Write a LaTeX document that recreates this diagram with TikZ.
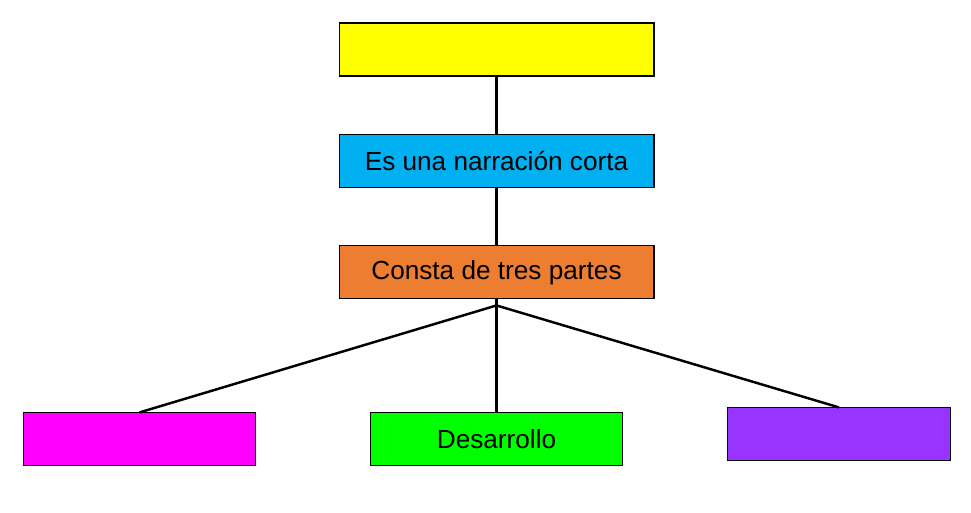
\documentclass[tikz,border=0pt]{standalone}
\usepackage{fontspec}
\setmainfont{Liberation Sans}
\usetikzlibrary{positioning}
\definecolor{amarillo}{HTML}{FFFF00}
\definecolor{azul}{HTML}{00B0F0}
\definecolor{naranja}{HTML}{ED7D31}
\definecolor{rosa}{HTML}{FF00FF}
\definecolor{verde}{HTML}{00FF00}
\definecolor{morado}{HTML}{9933FF}
\begin{document}
\begin{tikzpicture}[x=0.02cm, y=0.02cm, node distance=2.23cm, on grid,
  box/.style={draw, line width=0.6pt, minimum width=6.3cm, minimum height=1.06cm,
    inner sep=0pt, font=\fontsize{14.9}{17}\selectfont},
  link/.style={line width=1.4pt}]
  \useasboundingbox (0,0) rectangle (971,-513);
  \node[box, fill=amarillo] (tema) at (496.5,-49.5) {};
  \node[box, fill=azul] (def) [below=of tema] {Es una narración corta};
  \node[box, fill=naranja] (partes) [below=of def] {Consta de tres partes};
  \node[coordinate] (fork) [below=0.66cm of partes] {};
  \node[box, fill=verde, minimum width=5.04cm] (desarrollo) [below=3.34cm of partes] {Desarrollo};
  \node[box, fill=rosa, minimum width=4.64cm] (inicio) [left=7.14cm of desarrollo] {};
  \node[box, fill=morado, minimum width=4.46cm] (final) [right=6.85cm of desarrollo, yshift=0.1cm] {};
  \draw[link] (tema) -- (def);
  \draw[link] (def) -- (partes);
  \draw[link] (partes.south) -- (fork);
  \draw[link] (fork) -- (inicio.north);
  \draw[link] (fork) -- (desarrollo.north);
  \draw[link] (fork) -- (final.north);
\end{tikzpicture}
\end{document}
